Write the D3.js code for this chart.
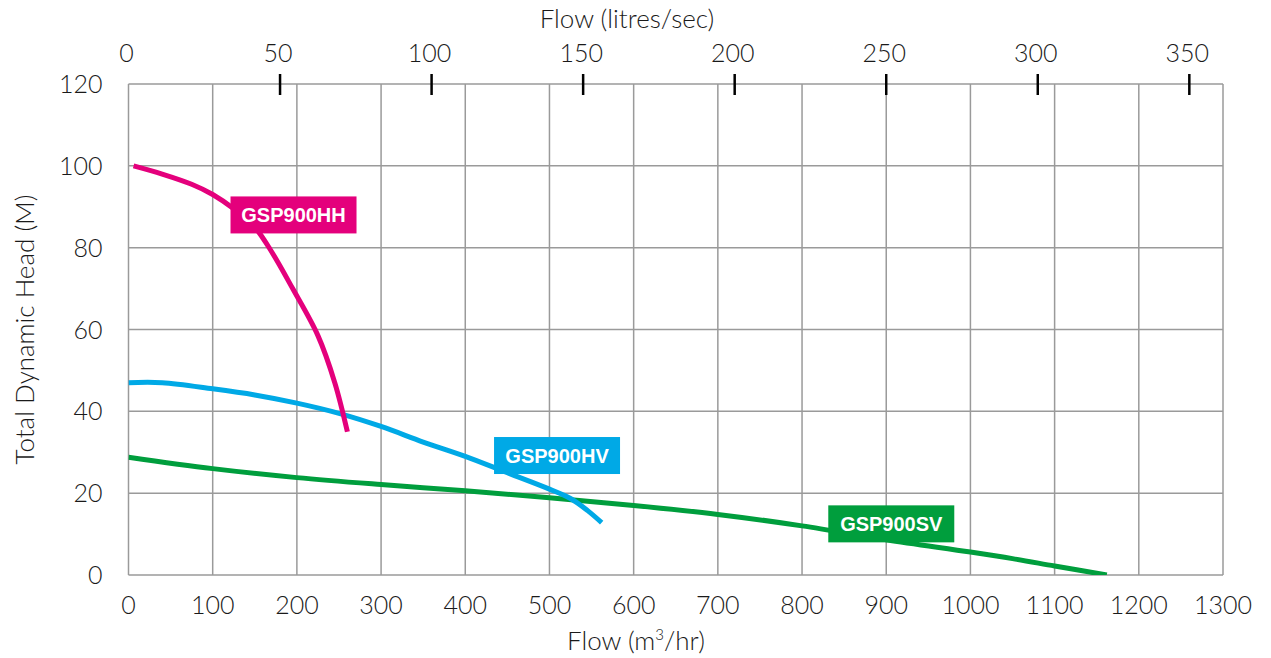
<!DOCTYPE html>
<head>
  <meta charset="utf-8">
  <script src="https://d3js.org/d3.v7.min.js"></script>
  <style>
    body { margin:0; background:#fff; }
    text { font-family: Lato, "Open Sans", sans-serif; font-weight:300; fill:#1a1a1a; }
  </style>
</head>
<body>
<script>
  // flow in m3/hr, head in metres
  var hhFlow = [6, 40, 75, 100, 125, 150, 170, 195, 225, 245, 260];
  var hhHead = [100, 98, 95.5, 93, 89.5, 85, 79, 70, 58.5, 47, 35];
  var hvFlow = [0, 40, 100, 150, 200, 250, 300, 350, 400, 450, 500, 525, 545, 562];
  var hvHead = [47, 47, 45.5, 44, 42, 39.5, 36.3, 32.5, 29, 25, 21, 18.7, 15.8, 12.8];
  var svFlow = [0, 100, 200, 300, 400, 500, 600, 700, 800, 900, 1000, 1050, 1100, 1162];
  var svHead = [28.8, 26, 23.8, 22.1, 20.6, 18.9, 17, 14.8, 12, 8.6, 5.6, 4, 2.2, 0];

  var seriesNames = ['GSP900HH', 'GSP900HV', 'GSP900SV'];
  var seriesColors = ['#e4007c', '#00a9e6', '#009e3d'];
  var labelFlow = [196, 509, 906];
  var labelHead = [88, 29.2, 12.5];

  var xTicks = d3.range(0, 1301, 100);
  var yTicks = d3.range(0, 121, 20);
  var lpsTicks = [50, 100, 150, 200, 250, 300, 350];

  var width = 1271, height = 658;
  var margin = {left: 128.5, right: 48, top: 84, bottom: 83};

  var svg = d3.select('body').append('svg')
    .attr('width', width)
    .attr('height', height);

  var x = d3.scaleLinear().domain([0, 1300]).range([margin.left, width - margin.right]);
  var y = d3.scaleLinear().domain([0, 120]).range([height - margin.bottom, margin.top]);
  var xl = d3.scaleLinear().domain([0, 1300 / 3.6]).range(x.range());

  // grid
  svg.append('g').selectAll('line').data(xTicks).enter().append('line')
    .attr('x1', d => x(d)).attr('x2', d => x(d))
    .attr('y1', y(0)).attr('y2', y(120))
    .attr('stroke', '#9a9a9a').attr('stroke-width', 1.5);
  svg.append('g').selectAll('line').data(yTicks).enter().append('line')
    .attr('x1', x(0)).attr('x2', x(1300))
    .attr('y1', d => y(d)).attr('y2', d => y(d))
    .attr('stroke', '#9a9a9a').attr('stroke-width', 1.5);

  // bottom labels
  svg.append('g').selectAll('text').data(xTicks).enter().append('text')
    .attr('x', d => x(d)).attr('y', y(0) + 39)
    .attr('text-anchor', 'middle').attr('font-size', 25)
    .text(d => d);
  // left labels
  svg.append('g').selectAll('text').data(yTicks).enter().append('text')
    .attr('x', x(0) - 26).attr('y', d => y(d) + 9)
    .attr('text-anchor', 'end').attr('font-size', 25)
    .text(d => d);
  // top axis (litres/sec)
  svg.append('g').selectAll('line').data(lpsTicks).enter().append('line')
    .attr('x1', d => xl(d)).attr('x2', d => xl(d))
    .attr('y1', y(120) - 10).attr('y2', y(120) + 11)
    .attr('stroke', '#000').attr('stroke-width', 2.5);
  svg.append('g').selectAll('text').data([0].concat(lpsTicks)).enter().append('text')
    .attr('x', d => xl(d) - 2).attr('y', 62)
    .attr('text-anchor', 'middle').attr('font-size', 25)
    .text(d => d);

  // titles
  svg.append('text').attr('x', 627).attr('y', 28)
    .attr('text-anchor', 'middle').attr('font-size', 26).text('Flow (litres/sec)');
  var bt = svg.append('text').attr('x', 636).attr('y', 650)
    .attr('text-anchor', 'middle').attr('font-size', 26);
  bt.append('tspan').text('Flow (m');
  bt.append('tspan').attr('font-size', 15).attr('dy', -10).text('3');
  bt.append('tspan').attr('dy', 10).text('/hr)');
  svg.append('text')
    .attr('transform', 'translate(34,' + ((y(0) + y(120)) / 2) + ') rotate(-90)')
    .attr('text-anchor', 'middle').attr('font-size', 26).text('Total Dynamic Head (M)');

  // curves
  svg.append('clipPath').attr('id', 'plot').append('rect')
    .attr('x', x(0)).attr('y', y(120)).attr('width', x(1300) - x(0)).attr('height', y(0) - y(120));

  var line = d3.line().x(d => x(d[0])).y(d => y(d[1])).curve(d3.curveCatmullRom);
  var series = [
    d3.zip(hhFlow, hhHead),
    d3.zip(hvFlow, hvHead),
    d3.zip(svFlow, svHead)
  ];
  // draw order: green, cyan, magenta
  [2, 1, 0].forEach(function(i) {
    svg.append('path')
      .datum(series[i])
      .attr('clip-path', 'url(#plot)')
      .attr('d', line)
      .attr('fill', 'none')
      .attr('stroke', seriesColors[i])
      .attr('stroke-width', 5);
  });

  // series labels
  seriesNames.forEach(function(name, i) {
    var cx = x(labelFlow[i]), cy = y(labelHead[i]);
    svg.append('rect')
      .attr('x', cx - 63).attr('y', cy - 18.5)
      .attr('width', 126).attr('height', 37)
      .attr('fill', seriesColors[i]);
    svg.append('text')
      .attr('x', cx).attr('y', cy + 7)
      .attr('text-anchor', 'middle').attr('font-size', 20)
      .style('font-weight', 700).style('fill', '#fff')
      .style('font-family', '"Liberation Sans", Arial, sans-serif')
      .text(name);
  });
</script>
</body>
